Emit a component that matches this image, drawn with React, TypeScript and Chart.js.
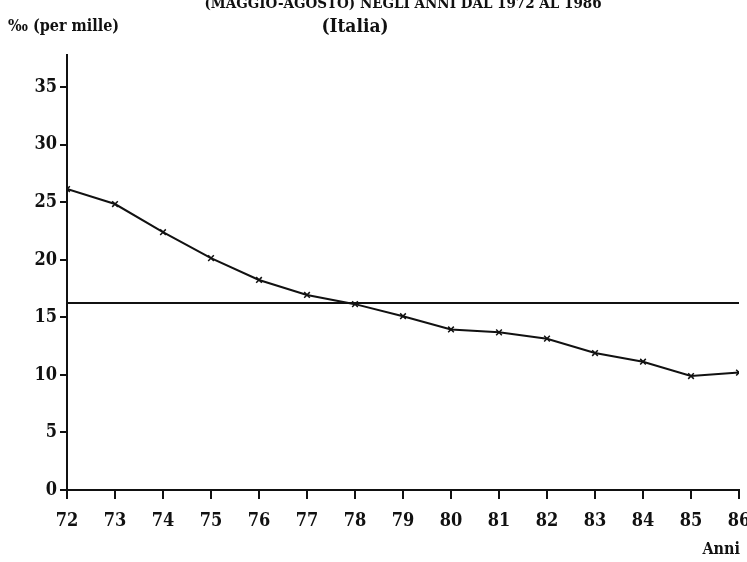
import React, { useEffect, useRef } from "react";
import { Chart, registerables } from "chart.js";

Chart.register(...registerables);

const years = [72, 73, 74, 75, 76, 77, 78, 79, 80, 81, 82, 83, 84, 85, 86];
const values = [26.15, 24.85, 22.4, 20.15, 18.25, 16.95, 16.15, 15.1, 13.95, 13.7, 13.15, 11.9, 11.15, 9.9, 10.2];
const meanValue = 16.25;
const yTicks = [0, 5, 10, 15, 20, 25, 30, 35];
const titleLine1 = "(MAGGIO-AGOSTO) NEGLI ANNI DAL 1972 AL 1986";
const titleLine2 = "(Italia)";
const yTitle = "‰ (per mille)";
const xTitle = "Anni";

const FONT = "'DejaVu Serif', serif";
const WEIGHT = "condensed bold";

export default function App() {
  const ref = useRef<HTMLCanvasElement | null>(null);
  useEffect(() => {
    document.body.style.margin = "0";
    const canvas = ref.current!;
    const textPlugin = {
      id: "texts",
      afterDraw(chart: any) {
        const ctx = chart.ctx;
        ctx.save();
        ctx.fillStyle = "#111";
        ctx.textBaseline = "middle";
        ctx.textAlign = "center";
        ctx.font = `${WEIGHT} 15px ${FONT}`;
        ctx.fillText(titleLine1, 403, 4);
        ctx.font = `${WEIGHT} 19px ${FONT}`;
        ctx.fillText(titleLine2, 355, 27);
        ctx.textAlign = "left";
        ctx.font = `${WEIGHT} 16px ${FONT}`;
        ctx.fillText(yTitle, 8, 27);
        ctx.textAlign = "right";
        ctx.font = `${WEIGHT} 16px ${FONT}`;
        ctx.fillText(xTitle, 740, 550);
        ctx.restore();
      },
    };
    const chart = new Chart(canvas, {
      type: "line",
      data: {
        datasets: [
          {
            data: years.map((x, i) => ({ x, y: values[i] })),
            borderColor: "#111",
            borderWidth: 2,
            pointStyle: "crossRot",
            pointRadius: 4,
            pointBorderWidth: 1.5,
            pointBorderColor: "#111",
            tension: 0,
          },
          {
            data: [
              { x: years[0], y: meanValue },
              { x: years[years.length - 1], y: meanValue },
            ],
            borderColor: "#111",
            borderWidth: 2,
            pointRadius: 0,
          },
        ],
      },
      plugins: [textPlugin],
      options: {
        animation: false,
        responsive: false,
        events: [],
        layout: { padding: { top: 55, right: 8, left: 0, bottom: 0 } },
        plugins: { legend: { display: false }, tooltip: { enabled: false }, title: { display: false } },
        scales: {
          x: {
            type: "linear",
            min: 72,
            max: 86,
            afterFit(scale: any) {
              scale.height = 72;
              scale.paddingLeft = 0;
              scale.paddingRight = 0;
            },
            afterBuildTicks(scale: any) {
              scale.ticks = years.map((v) => ({ value: v }));
            },
            ticks: {
              stepSize: 1,
              color: "#111",
              font: { family: FONT, size: 18, weight: WEIGHT },
              padding: 12,
              maxRotation: 0,
              autoSkip: false,
            },
            grid: { drawOnChartArea: false, drawTicks: true, tickLength: 9, color: "#111", lineWidth: 2 },
            border: { display: true, color: "#111", width: 2 },
          },
          y: {
            min: 0,
            max: 37.8,
            afterFit(scale: any) {
              scale.width = 67;
              scale.paddingTop = 0;
              scale.paddingBottom = 0;
            },
            afterBuildTicks(scale: any) {
              scale.ticks = yTicks.map((v) => ({ value: v }));
            },
            ticks: {
              color: "#111",
              font: { family: FONT, size: 18, weight: WEIGHT },
              padding: 3,
            },
            grid: { drawOnChartArea: false, drawTicks: true, tickLength: 7, color: "#111", lineWidth: 2 },
            border: { display: true, color: "#111", width: 2 },
          },
        },
      },
    });
    return () => chart.destroy();
  }, []);
  return (
    <div style={{ position: "absolute", left: 0, top: 0, width: 747, height: 562, background: "#fff" }}>
      <canvas ref={ref} width={747} height={562} style={{ width: 747, height: 562 }} />
    </div>
  );
}
